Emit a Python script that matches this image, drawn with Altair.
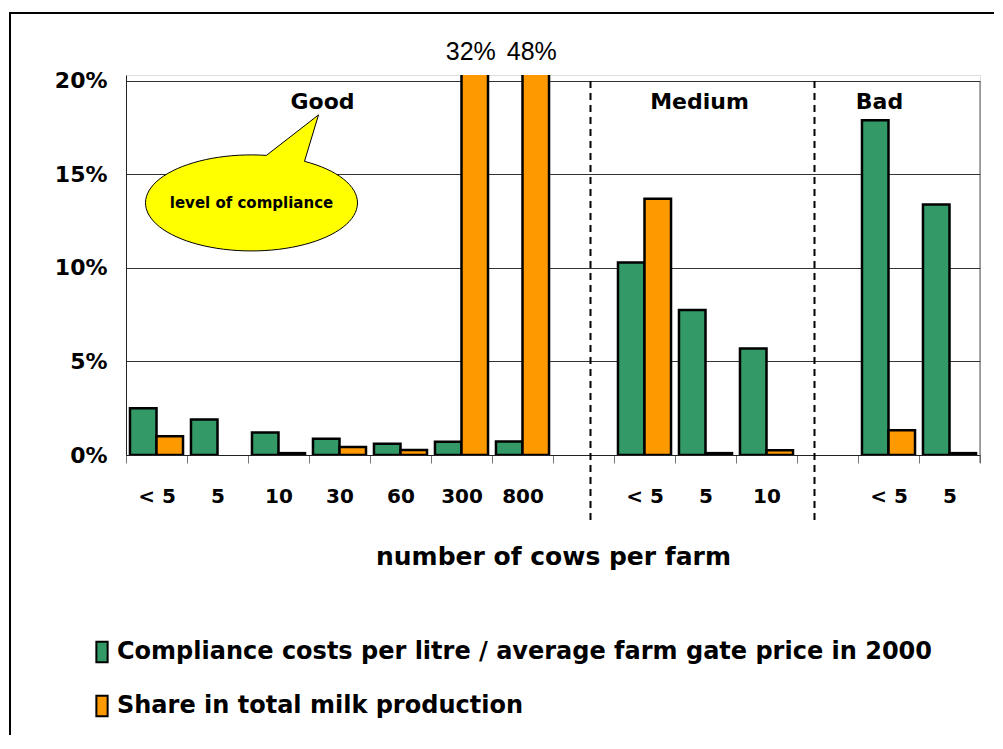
import math
import altair as alt
import pandas as pd

# ---------------- data ----------------
keys = ["g1", "g2", "g3", "g4", "g5", "g6", "g7", "s1", "m1", "m2", "m3", "s2", "b1", "b2"]
tick_labels = ["< 5", "5", "10", "30", "60", "300", "800", "", "< 5", "5", "10", "", "< 5", "5"]
compliance = [2.5, 1.9, 1.2, 0.87, 0.6, 0.71, 0.72, None, 10.3, 7.75, 5.7, None, 17.9, 13.4]
share = [1.0, None, 0.1, 0.43, 0.27, 32, 48, None, 13.7, 0.1, 0.25, None, 1.32, 0.1]
series = ["Compliance costs per litre / average farm gate price in 2000",
          "Share in total milk production"]
colors = ["#339966", "#FF9900"]

group_names = ["Good", "Medium", "Bad"]
group_keys = ["g4", "m2", "b1"]

big_keys = ["g6", "g7"]
big_text = ["32%", "48%"]

rows = []
for k, c, s in zip(keys, compliance, share):
    if c is not None:
        rows.append({"key": k, "series": series[0], "value": c})
    if s is not None:
        rows.append({"key": k, "series": series[1], "value": s})
bars_df = pd.DataFrame(rows)

label_map = {k: l for k, l in zip(keys, tick_labels)}
label_expr = "{" + ",".join("'%s':'%s'" % (k, l) for k, l in label_map.items()) + "}[datum.value]"

FONT = "Liberation Sans"
WIDE = "DejaVu Sans"
YMAX = 20.32

xscale = alt.Scale(domain=keys, paddingInner=0, paddingOuter=0)
yscale = alt.Scale(domain=[0, YMAX], nice=False, zero=True)
offscale = alt.Scale(domain=series, paddingInner=0, paddingOuter=0.15)

x_enc = alt.X("key:N", scale=xscale, sort=keys, title="number of cows per farm",
              axis=alt.Axis(labelExpr=label_expr, labelAngle=0, tickBand="extent",
                            labelFont=WIDE, labelFontSize=20, labelFontWeight="bold",
                            labelColor="black", labelPadding=23, tickSize=8,
                            tickColor="#777777", domainColor="#222222",
                            titleFont=WIDE, titleFontSize=25, titleFontWeight="bold",
                            titleColor="black", titlePadding=38, grid=False))
y_enc = alt.Y("value:Q", scale=yscale, title=None,
              axis=alt.Axis(values=[0, 5, 10, 15, 20], labelExpr="datum.value + '%'",
                            labelFont=WIDE, labelFontSize=22, labelFontWeight="bold",
                            labelColor="black", ticks=False, tickSize=0, labelPadding=19,
                            grid=True, gridColor="#333333", gridWidth=1,
                            domainColor="#222222"))

bars = alt.Chart(bars_df).mark_bar(clip=True, stroke="black", strokeWidth=2.5).encode(
    x=x_enc,
    y=y_enc,
    xOffset=alt.XOffset("series:N", scale=offscale, sort=series),
    color=alt.Color("series:N", sort=series,
                    scale=alt.Scale(domain=series, range=colors),
                    legend=alt.Legend(title=None, orient="none", legendX=-36, legendY=565,
                                      direction="vertical",
                                      symbolType="M-0.55,-1L0.55,-1L0.55,1L-0.55,1Z",
                                      symbolSize=420, symbolStrokeColor="black",
                                      symbolStrokeWidth=2, symbolOpacity=1,
                                      labelFont=WIDE, labelFontSize=24,
                                      labelFontWeight="bold", labelColor="black",
                                      labelOffset=3, rowPadding=24, labelLimit=1000)),
)

big_df = pd.DataFrame({"key": big_keys, "series": [series[1]] * 2,
                       "label": big_text, "ypos": [21.55, 21.55]})
big = alt.Chart(big_df).mark_text(font=FONT, fontSize=25, color="black",
                                  baseline="middle", dx=-4).encode(
    x=alt.X("key:N", scale=xscale, sort=keys),
    xOffset=alt.XOffset("series:N", scale=offscale, sort=series),
    y=alt.Y("ypos:Q", scale=yscale),
    text="label:N",
)

grp_df = pd.DataFrame({"key": group_keys, "label": group_names, "ypos": [18.85] * 3})


def group_label(i, dx):
    return alt.Chart(grp_df.iloc[[i]]).mark_text(
        font=WIDE, fontSize=22, fontWeight="bold", color="black",
        baseline="middle", dx=dx).encode(
        x=alt.X("key:N", scale=xscale, sort=keys),
        y=alt.Y("ypos:Q", scale=yscale), text="label:N")


grp_good = group_label(0, -17)
grp_med = group_label(1, -6)
grp_bad = group_label(2, -9)

# dashed separators in the empty columns
sep_df1 = pd.DataFrame({"key": ["s1"], "top": [20], "bottom": [0]})
sep_df2 = pd.DataFrame({"key": ["s2"], "top": [20], "bottom": [0]})
sep1 = alt.Chart(sep_df1).mark_rule(color="black", strokeWidth=2, strokeDash=[7, 5],
                                    xOffset=7, y2Offset=66).encode(
    x=alt.X("key:N", scale=xscale, sort=keys), y=alt.Y("top:Q", scale=yscale), y2="bottom:Q")
sep2 = alt.Chart(sep_df2).mark_rule(color="black", strokeWidth=2, strokeDash=[7, 5],
                                    xOffset=-13, y2Offset=66).encode(
    x=alt.X("key:N", scale=xscale, sort=keys), y=alt.Y("top:Q", scale=yscale), y2="bottom:Q")

# speech bubble (ellipse + tail) as a custom symbol
ry = 0.453
pts = []
t0, t1 = -60.0, 278.1
n = 90
for i in range(n + 1):
    t = math.radians(t0 + (t1 - t0) * i / n)
    pts.append((math.cos(t), ry * math.sin(t)))
pts.append((0.632, -0.830))
bubble_path = "M" + "L".join("%.4f,%.4f" % p for p in pts) + "Z"

bub_df = pd.DataFrame({"key": ["g3"], "ypos": [13.48], "label": ["level of compliance"]})
bubble = alt.Chart(bub_df).mark_point(shape=bubble_path, filled=True, fill="#FFFF00",
                                      stroke="black", strokeWidth=1, opacity=1,
                                      size=44944, xOffset=-27).encode(
    x=alt.X("key:N", scale=xscale, sort=keys), y=alt.Y("ypos:Q", scale=yscale))
bub_text = alt.Chart(bub_df).mark_text(font=WIDE, fontSize=15, fontWeight="bold",
                                       color="black", baseline="middle", dx=-27).encode(
    x=alt.X("key:N", scale=xscale, sort=keys), y=alt.Y("ypos:Q", scale=yscale), text="label:N")

# right edge of plot area
right_df = pd.DataFrame({"top": [20], "bottom": [0]})
right_edge = alt.Chart(right_df).mark_rule(color="#555555", strokeWidth=1, y2Offset=8).encode(
    x=alt.value(854), y=alt.Y("top:Q", scale=yscale), y2="bottom:Q")

# outer figure frame (left and top edges)
frame_left = alt.Chart(right_df).mark_rule(color="black", strokeWidth=2).encode(
    x=alt.value(-116), y=alt.value(-62), y2=alt.value(660))
frame_top = alt.Chart(right_df).mark_rule(color="black", strokeWidth=2).encode(
    x=alt.value(-117), x2=alt.value(868), y=alt.value(-62))

chart = alt.layer(
    bars, big, grp_good, grp_med, grp_bad, sep1, sep2, bubble, bub_text,
    right_edge, frame_left, frame_top
).properties(
    width=854, height=380,
    padding={"left": 0, "top": 4, "right": 0, "bottom": 0},
).configure_view(stroke=None).configure(background="white")

chart.save("out.html", embed_options={"renderer": "svg", "actions": False})
